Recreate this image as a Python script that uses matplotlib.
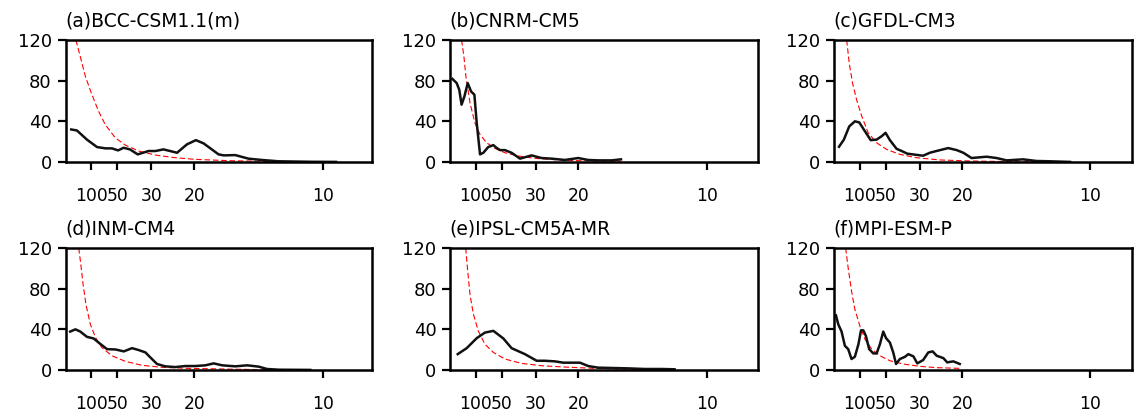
import numpy as np
import matplotlib
matplotlib.use("Agg")
import matplotlib.pyplot as plt

plt.rcParams['font.family'] = ['DejaVu Sans']

titles = ["(a)BCC-CSM1.1(m)", "(b)CNRM-CM5", "(c)GFDL-CM3",
          "(d)INM-CM4", "(e)IPSL-CM5A-MR", "(f)MPI-ESM-P"]

periods = [100, 50, 30, 20, 10]
period_labels = ["100", "50", "30", "20", "10"]
yticks = [0, 40, 80, 120]

# spectra (black) and red-noise curve (red)
a_freq = [.0022, .0044, .0083, .0122, .0155, .018, .0204, .0225, .025, .028, .0322, .0349, .038,
          .0433, .0471, .0506, .0536, .0594, .0614, .0659, .071, .0762, .0827, .096, .105]
a_pow = [32, 31, 22, 14.7, 13.4, 13.4, 11.4, 14, 12.4, 7.5, 10.8, 10.8, 12.4,
         9.1, 17.3, 21.5, 18.3, 7.5, 6.5, 6.8, 3.3, 2, 0.7, 0.2, 0.1]
a_rfreq = [.0040, .0057, .0077, .01, .0128, .0154, .0193, .0232, .0284, .0349, .0426, .0504, .0633, .0763, .09, .105]
a_red = [120, 103.7, 84, 67.8, 49.9, 36.8, 23.8, 16.6, 10.8, 6.8, 4.2, 2.6, 1.3, 0.7, 0.4, 0.2]

b_freq = [.0008, .0025, .0035, .0044, .0055, .0068, .0081, .0094, .0103, .0116, .0129, .0148, .0168, .018,
          .0194, .0213, .0239, .0272, .0317, .0356, .0395, .0447, .0499, .0538, .0577, .0629, .0666]
b_pow = [81.8, 77.6, 71, 56.4, 64.5, 77.6, 69.4, 66.2, 38.5, 7.5, 9.1, 14.7, 16.6, 14,
         11.7, 11.7, 9.1, 3.3, 6.5, 3.9, 3.3, 2, 3.9, 2, 1.6, 1.6, 2.6]
b_rfreq = [.0044, .0053, .0061, .0077, .0096, .0116, .0142, .0174, .0213, .0265, .0330, .0408, .0499, .0629, .0666]
b_red = [120, 104, 84, 58, 38.5, 27, 18.9, 13.4, 9.1, 5.9, 3.6, 2.3, 1.3, 0.7, 0.6]

c_freq = [.0018, .0037, .0058, .0080, .0097, .0120, .0142, .0165, .0185, .0200, .0217, .0243, .0263, .0285,
          .0315, .0347, .0373, .0399, .0445, .0478, .0504, .0536, .0595, .0634, .0673, .0738, .0790, .0843, .0921]
c_pow = [15, 22, 35, 40, 39, 30, 21.5, 22, 25.4, 28.7, 21.5, 13, 10.8, 8.2,
         7.2, 6.2, 9.1, 10.8, 13.7, 11.7, 9.1, 3.9, 5.2, 3.9, 1.6, 2.6, 1, 0.7, 0.1]
c_rfreq = [.0048, .0058, .0071, .0087, .0107, .0132, .0165, .0204, .0256, .0321, .0413, .0530, .0699, .09]
c_red = [120, 97, 77.6, 61, 45, 28.7, 18.9, 12.4, 7.5, 4.2, 2, 1, 0.3, 0.1]

d_freq = [.0018, .0038, .0057, .0083, .0109, .0128, .0161, .0194, .0226, .0258, .0284, .0310, .0329, .0355,
          .0387, .0426, .0465, .0504, .0543, .0575, .0608, .0659, .0705, .0750, .0782, .0828, .095]
d_pow = [37.8, 40, 37.8, 32.6, 31, 27, 20.5, 20.2, 18.3, 21.5, 19.6, 17.3, 12.4, 5.9,
         3.6, 2.9, 3.9, 3.9, 4.6, 6.5, 4.6, 3.6, 4.6, 3.3, 1, 0.3, 0.1]
d_rfreq = [.0051, .0059, .0068, .0079, .0096, .0116, .0141, .0180, .0232, .0297, .0375, .0478, .0608, .0763, .09]
d_red = [120, 104, 84, 64.5, 45, 32, 22, 14, 8.5, 4.6, 2.6, 1.6, 1, 0.3, 0.1]

e_freq = [.0029, .0064, .0103, .0135, .0168, .0207, .0239, .0291, .0337, .0369, .0408, .0441, .0473,
          .0506, .0538, .0577, .0629, .0694, .0759, .0824, .0875]
e_pow = [15.6, 21.5, 31.3, 36.8, 38.5, 31, 21.5, 15.6, 9.1, 9.1, 8.5, 7.2, 7.2,
         7.2, 3.9, 2.3, 2, 1.6, 1, 1, 0.7]
e_rfreq = [.0060, .0068, .0077, .0090, .0109, .0135, .0168, .0213, .0278, .0356, .0447, .0564, .0694, .0875]
e_red = [120, 97, 74, 55, 38.5, 25.4, 17.3, 10.8, 6.5, 4.2, 2.9, 1.6, 0.7, 0.3]

f_freq = [.0006, .0015, .0028, .0041, .0054, .0067, .0080, .0094, .0104, .0113, .0123, .0136, .0152, .0165,
          .0178, .0191, .0202, .0217, .0230, .0241, .0256, .0276, .0289, .0309, .0324, .0347, .0367, .0384,
          .0400, .0426, .0441, .0465, .0490]
f_pow = [53.8, 45, 37.8, 23.8, 20.5, 10.8, 13, 25.4, 39, 39, 33.6, 20.5, 16.3, 16.3,
         25.4, 37.8, 31.3, 27, 17.3, 5.9, 10.8, 13, 15.6, 13.4, 6.5, 9.8, 17.3, 18.3,
         14, 11.7, 7.5, 8.5, 5.9]
f_rfreq = [.0044, .0054, .0067, .0080, .0100, .0120, .0146, .0178, .0217, .0269, .0334, .0400, .0491]
f_red = [120, 100, 77.6, 59.7, 43, 30, 20.5, 14, 9.1, 5.9, 3.6, 2.3, 1.6]

spectra = [(a_freq, a_pow, a_rfreq, a_red), (b_freq, b_pow, b_rfreq, b_red),
           (c_freq, c_pow, c_rfreq, c_red), (d_freq, d_pow, d_rfreq, d_red),
           (e_freq, e_pow, e_rfreq, e_red), (f_freq, f_pow, f_rfreq, f_red)]

W, H = 1138, 416
fig = plt.figure(figsize=(W / 100, H / 100), dpi=100)

# axes boxes in pixels: left, right, top, bottom
lefts = [65.6, 450.3, 834.4]
rights = [372.3, 757.7, 1132.3]
tops = [40, 248]
bottoms = [162, 370]
px_per_unit = [2575, 2563, 2558]

for i, (fr, pw, rf, rd) in enumerate(spectra):
    row, col = divmod(i, 3)
    l, r = lefts[col], rights[col]
    t, b = tops[row], bottoms[row]
    ax = fig.add_axes([l / W, 1 - b / H, (r - l) / W, (b - t) / H])
    ax.plot(rf, rd, color='red', lw=0.8, ls=(0, (5, 2.5)))
    ax.plot(fr, pw, color='#111111', lw=1.8)
    ax.set_xlim(0, (r - l) / px_per_unit[col])
    ax.set_ylim(0, 120)
    ax.set_xticks([1.0 / p for p in periods])
    ax.set_xticklabels(period_labels)
    ax.set_yticks(yticks)
    for s in ax.spines.values():
        s.set_linewidth(1.8)
    ax.tick_params(axis='x', direction='out', length=6, width=1.6, pad=12, labelsize=12.3)
    ax.tick_params(axis='y', direction='out', length=6, width=1.6, pad=4, labelsize=13)
    ax.text(-0.002, 1.08, titles[i], transform=ax.transAxes, ha='left', va='bottom',
            fontsize=13.5)

fig.savefig("out.png", dpi=100)
